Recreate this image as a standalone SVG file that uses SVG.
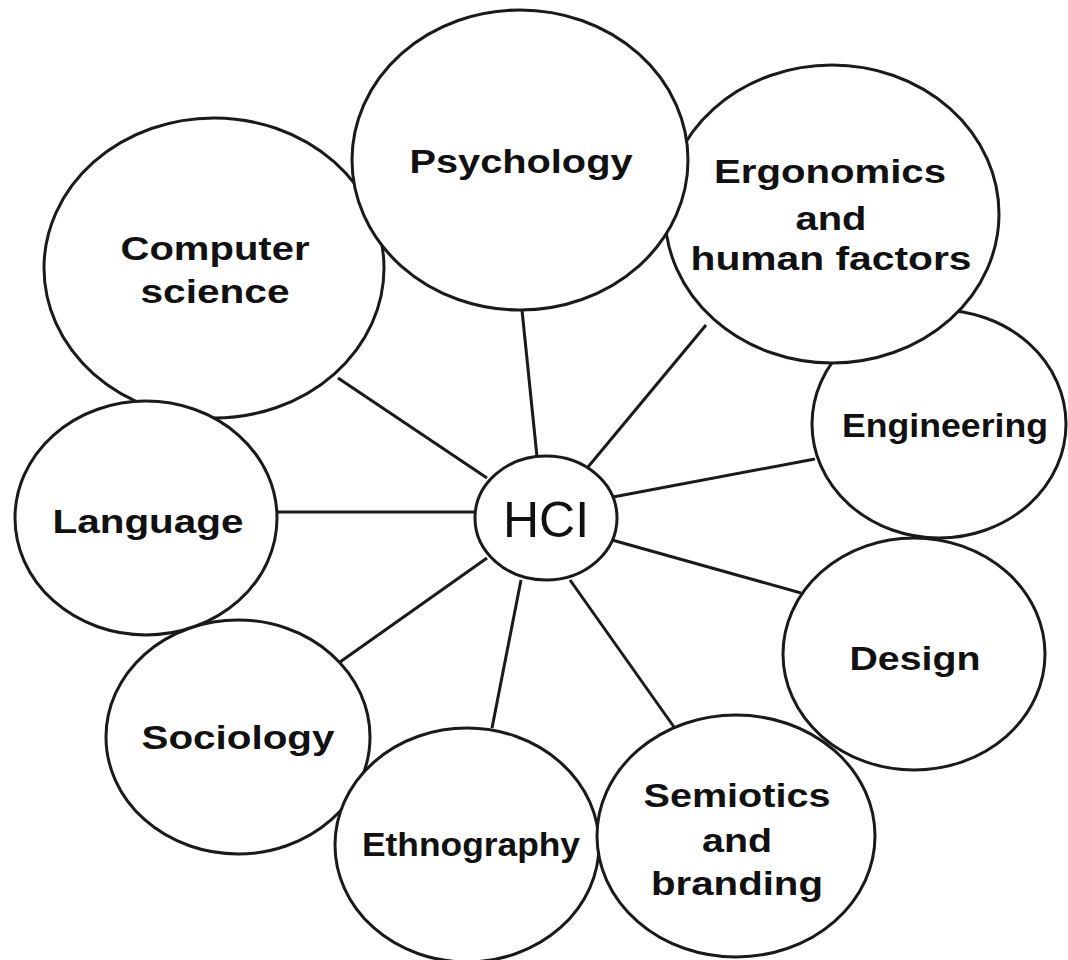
<svg xmlns="http://www.w3.org/2000/svg" width="1068" height="960" viewBox="0 0 1068 960">
<style>
.node ellipse{fill:#fff;stroke:#1a1a1a;stroke-width:3}
.node text{font-family:"Liberation Sans",Arial,sans-serif;font-weight:bold;font-size:34px;fill:#111;text-anchor:middle}
#hci text{font-weight:normal;font-size:50px}
#connectors line{stroke:#1a1a1a;stroke-width:3}
</style>
<rect width="1068" height="960" fill="#fff"/>
<g id="connectors">
<line x1="338" y1="378" x2="487" y2="478"/>
<line x1="522" y1="310" x2="537" y2="457"/>
<line x1="706" y1="325" x2="588" y2="467"/>
<line x1="815" y1="459" x2="613" y2="497"/>
<line x1="278" y1="512" x2="476" y2="512"/>
<line x1="340" y1="662" x2="487" y2="558"/>
<line x1="492" y1="728" x2="521" y2="580"/>
<line x1="674" y1="727" x2="570" y2="580"/>
<line x1="801" y1="593" x2="612" y2="540"/>
</g>
<g id="engineering" class="node"><ellipse cx="939" cy="424" rx="127" ry="114"/><text x="945" y="437" textLength="206" lengthAdjust="spacingAndGlyphs">Engineering</text></g>
<g id="design" class="node"><ellipse cx="914" cy="654" rx="131" ry="116"/><text x="915" y="670" textLength="131" lengthAdjust="spacingAndGlyphs">Design</text></g>
<g id="ergonomics" class="node"><ellipse cx="832" cy="214" rx="167" ry="149"/><text x="830" y="183" textLength="232" lengthAdjust="spacingAndGlyphs">Ergonomics</text><text x="831" y="230" textLength="71" lengthAdjust="spacingAndGlyphs">and</text><text x="831" y="270" textLength="281" lengthAdjust="spacingAndGlyphs">human factors</text></g>
<g id="computer-science" class="node"><ellipse cx="214" cy="268" rx="170" ry="150"/><text x="215" y="260" textLength="189" lengthAdjust="spacingAndGlyphs">Computer</text><text x="215" y="303" textLength="149" lengthAdjust="spacingAndGlyphs">science</text></g>
<g id="psychology" class="node"><ellipse cx="520" cy="160" rx="168" ry="150"/><text x="521" y="173" textLength="223" lengthAdjust="spacingAndGlyphs">Psychology</text></g>
<g id="language" class="node"><ellipse cx="146" cy="518" rx="131" ry="117"/><text x="148" y="533" textLength="191" lengthAdjust="spacingAndGlyphs">Language</text></g>
<g id="sociology" class="node"><ellipse cx="238" cy="737" rx="132" ry="117"/><text x="238" y="749" textLength="193" lengthAdjust="spacingAndGlyphs">Sociology</text></g>
<g id="ethnography" class="node"><ellipse cx="467" cy="845" rx="132" ry="117"/><text x="471" y="856" textLength="218" lengthAdjust="spacingAndGlyphs">Ethnography</text></g>
<g id="semiotics" class="node"><ellipse cx="736" cy="836" rx="139" ry="121"/><text x="737" y="807" textLength="187" lengthAdjust="spacingAndGlyphs">Semiotics</text><text x="737" y="852" textLength="70" lengthAdjust="spacingAndGlyphs">and</text><text x="737" y="895" textLength="172" lengthAdjust="spacingAndGlyphs">branding</text></g>
<g id="hci" class="node"><ellipse cx="546" cy="518" rx="71" ry="62"/><text x="546" y="537">HCI</text></g>
</svg>
